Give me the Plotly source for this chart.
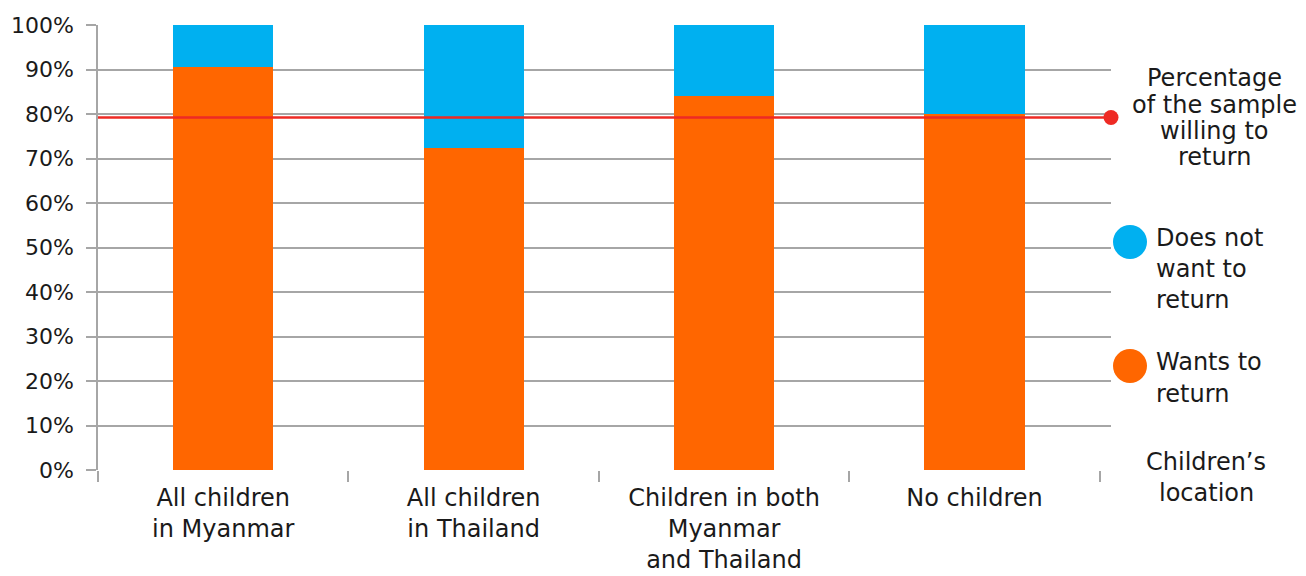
import plotly.graph_objects as go

categories = ["All children<br>in Myanmar", "All children<br>in Thailand",
              "Children in both<br>Myanmar<br>and Thailand", "No children"]
wants_to_return = [90.5, 72.4, 84.1, 80.1]
does_not_want = [100 - v for v in wants_to_return]
sample_willing = 79.2
line_x = [-0.5, 3.545]
y_ticks = [0, 10, 20, 30, 40, 50, 60, 70, 80, 90, 100]
y_tick_labels = [f"{v}%" for v in y_ticks]

ORANGE = "#ff6600"
BLUE = "#00b0f0"
RED = "#ee2a24"
GRID = "#a6a6a6"
FONT = dict(family="Century Gothic, DejaVu Sans, sans-serif", size=24, color="#1a1a1a")

# page body has an 8px default margin: compensate
W, H = 1306, 576
L, T = 90, 17
X_RANGE = [-0.5, line_x[-1]]
CAT_PX = 250.5                      # px per category
PW = round(CAT_PX * (X_RANGE[1] - X_RANGE[0]))
PH = 445

xpos = list(range(len(categories)))
boundaries = [i - 0.5 for i in range(len(categories) + 1)]

fig = go.Figure()
fig.add_trace(go.Bar(x=xpos, y=wants_to_return, marker_color=ORANGE,
                     width=0.4, name="Wants to return", marker_line_width=0))
fig.add_trace(go.Bar(x=xpos, y=does_not_want, marker_color=BLUE,
                     width=0.4, name="Does not want to return", marker_line_width=0))
fig.add_trace(go.Scatter(x=line_x, y=[sample_willing, sample_willing],
                         mode="lines", line=dict(color=RED, width=2.5),
                         cliponaxis=False, name="Percentage of the sample willing to return"))
fig.add_trace(go.Scatter(x=line_x[-1:], y=[sample_willing],
                         mode="markers", marker=dict(size=15, color=RED),
                         cliponaxis=False, showlegend=False))

fig.update_layout(
    barmode="stack",
    showlegend=False,
    width=W, height=H,
    margin=dict(l=L, r=W - L - PW, t=T, b=H - T - PH, autoexpand=False),
    plot_bgcolor="white", paper_bgcolor="white",
    font=FONT,
    xaxis=dict(range=X_RANGE, tickmode="array", tickvals=xpos, ticktext=categories,
               ticks="", showline=False, showgrid=False, zeroline=False,
               tickfont=FONT, automargin=False, ticklabelstandoff=11,
               minor=dict(tickmode="array", tickvals=boundaries, ticks="outside",
                          ticklen=11, tickcolor=GRID, tickwidth=2, showgrid=False)),
    yaxis=dict(range=[0, 100], tickmode="array", tickvals=y_ticks, ticktext=y_tick_labels,
               ticks="outside", ticklen=10, tickcolor=GRID, tickwidth=1.5, showgrid=True,
               gridcolor=GRID, gridwidth=1.5, showline=True, linecolor=GRID,
               linewidth=1.5, zeroline=False, tickfont=dict(FONT, size=22),
               automargin=False, ticklabelstandoff=8),
)


def px_to_paper(xp, yp):
    # reference screenshot pixel -> paper coords (accounting 8px page offset)
    return ((xp - 8 - L) / PW, (T + PH - (yp - 8)) / PH)


def add_lines(lines, xp, ys, anchor):
    for txt, yp in zip(lines, ys):
        x, y = px_to_paper(xp, yp)
        fig.add_annotation(text=txt, xref="paper", yref="paper", x=x, y=y,
                           xanchor=anchor, yanchor="middle", showarrow=False, font=FONT)


add_lines(["Percentage", "of the sample", "willing to", "return"], 1214, [78, 105, 131, 157], "center")
add_lines(["Does not", "want to", "return"], 1154, [238, 269, 300], "left")
add_lines(["Wants to", "return"], 1154, [362, 394], "left")
add_lines(["Children’s", "location"], 1206, [462, 493], "center")

for yp, col in [(242, BLUE), (366, ORANGE)]:
    xc, yc = px_to_paper(1130, yp)
    fig.add_shape(type="circle", xref="paper", yref="paper", xsizemode="pixel",
                  ysizemode="pixel", xanchor=xc, yanchor=yc, x0=-17, x1=17,
                  y0=-17, y1=17, fillcolor=col, line_width=0)

fig.write_html("out.html")
